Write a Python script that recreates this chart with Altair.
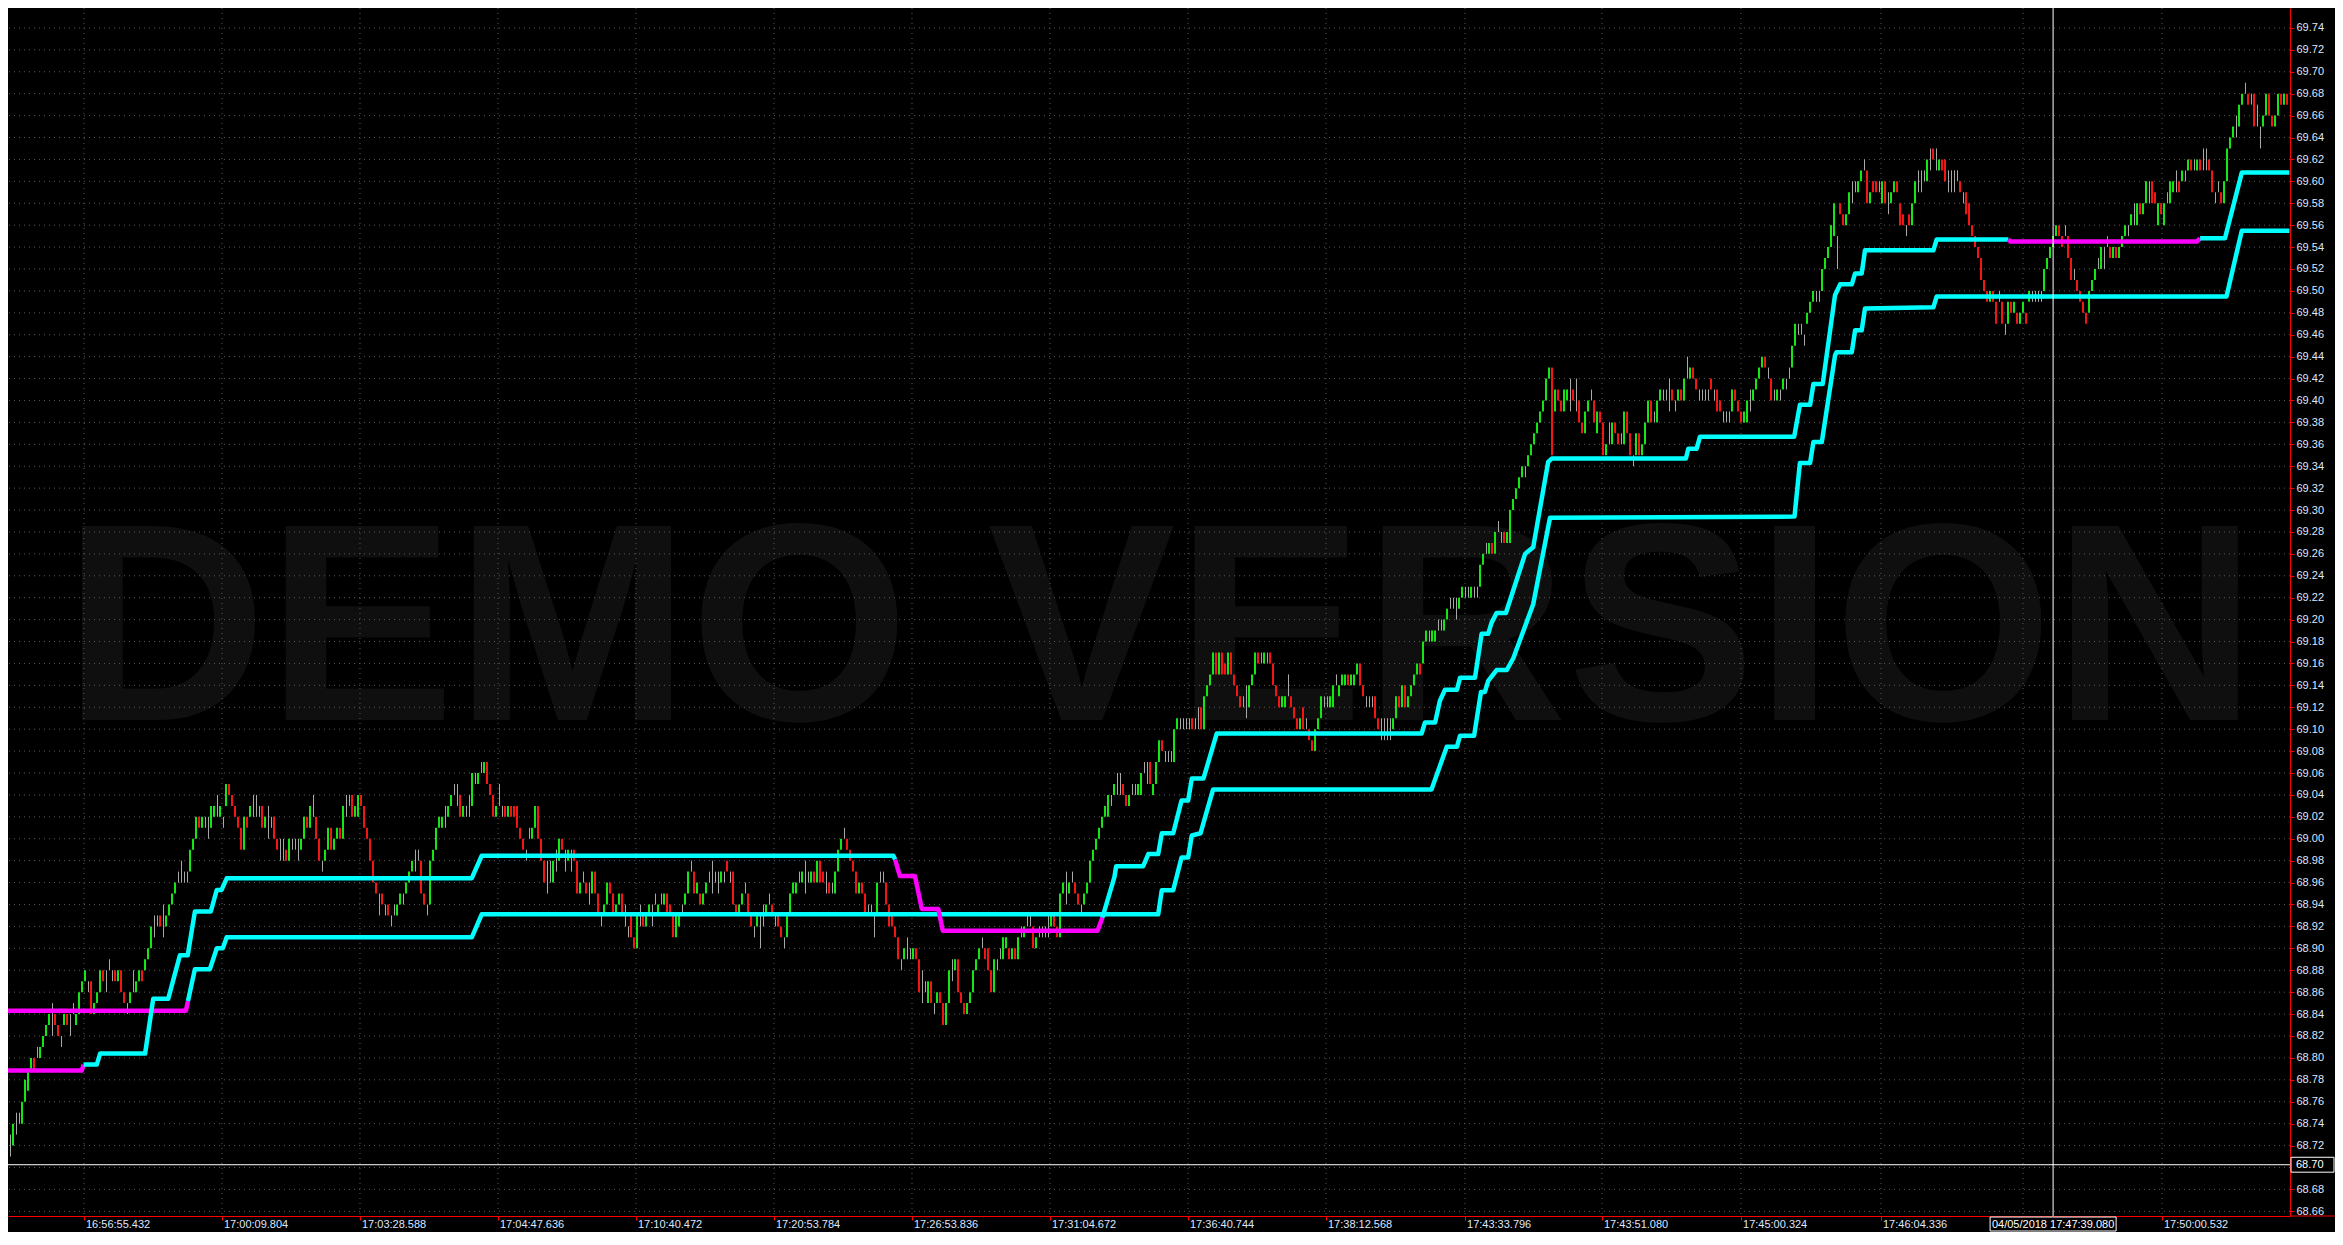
import altair as alt
import pandas as pd

# ---------------- layout ----------------
W, H = 2282, 1208
PAD_R, PAD_B = 45, 16
U_MAX = W / 3                       # bar slots across the plot (3 px each)
P_MIN, P_MAX = 68.6557, 69.7582

GREEN, RED, WICK = "#14e614", "#f41414", "#a8a8a8"
CYAN, MAGENTA = "#00ffff", "#ff00ff"
AXIS_RED, LABEL, GRID = "#ff0000", "#dfe6ff", "#5a5a5a"
FONT = "Liberation Sans"

# ---------------- data ----------------
# bars: "a+b" up bar (open a, close b), "a-b" down bar, "a~b" doji range; ticks = (price-68)*100
SEG_START = [0, 130, 264, 397, 530, 630, 742]
SEG_A = ("71~73 72+74 73~75 74~75 74+76 76+78 77+79 79+80 80-79 80~81 80+81 81+82 82+83 83+84 82~85 84-83 83-82 81~82 83+84 84-83 "
         "82~84 84~85 83+84 84+86 86+87 87+88 86~87 87-84 84+85 85+86 86+88 88-87 86~88 88~89 87~88 88-87 87+88 88-86 86-85 84~85 "
         "85+86 86~88 86+87 87+88 88-87 88+89 89+90 90+92 91~93 92~93 93-92 91~94 92+93 93+94 94+95 95+96 96~97 96~98 96~97 96~97 "
         "97+99 99+100 100+102 102-101 101+102 101~102 100~102 101+103 102+103 102~104 102+103 101~102 103+105 105-104 104-103 103-102 102-101 101-99 99+102 102-101 "
         "102+103 102~104 102~104 102~103 103-101 101+102 100~103 101~102 102-100 100-99 98~100 98~100 99-98 98+100 99~100 99~100 98~100 99+100 100+102 102-101 "
         "101+103 102~104 102-100 100-98 97~98 98+99 99+101 101-99 99+100 100+101 101-100 100+103 102~104 103~104 104-102 102+103 102+104 104-103 103-101 101-100 "
         "100-98 98-96 96-95 93~95 95-94 93~94 94-93 92~93 93~94 93+94")
SEG_B = ("94+95 94~95 95+96 96+97 97+98 97~99 98~99 98-95 95-94 93~94 94+98 98+99 99+101 101+102 101+102 101~103 102+103 103+104 104~105 103~105 "
         "104-102 102+103 102~103 102~104 103+106 105~106 105+106 106~107 106+107 107-105 105-104 104-102 102+103 103~105 102~103 103-102 102+103 103-102 103-102 103-101 "
         "101-100 100-99 98~99 100~101 100+101 101+103 103-100 100-98 98-96 95~98 96~98 96+98 97~99 98+100 100-99 97~99 98+99 97~99 99-98 98-95 "
         "95+96 96~97 96-95 94~96 95+97 97-95 95-93 92~93 93+94 94+96 96-95 95-93 93+94 94+95 95-93 92~94 91~92 93-91 91-90 90+93 "
         "92~94 93-92 92+93 93+94 92~94 94~95 93+94 94~95 94+95 95-93 94-93 93-91 91+93 92+93 93~94 94+95 95+97 97~98 97-95 95+96 "
         "95-94 94+95 95+96 96~97 95~98 96~97 95~97 96+97 96~97 98-97 96~97 97-94 94-93 93+94 94+95 95~96 95-93 93-92 91~92 92+93 "
         "90~93 92~94 93+94 94~95 94-93 92~93 93-92 92-91 90~91 91+93 93+95 95+96 95+96 96~97")
SEG_C = ("96+97 95~98 96~97 96+97 97-96 96+98 98-96 97-96 95~97 96-95 95~96 95+97 97+99 99+100 100~101 100-99 99-98 98-97 97-95 95+96 "
         "96-95 95-93 93~94 93~94 91~93 93+96 96~97 96~97 96-94 94-92 93-92 92-91 91-89 88~89 89+90 89~91 89~90 89+90 90-89 89-86 "
         "85~88 86~87 85+87 87-85 84~85 85+86 86-85 85-83 83+85 85+88 87~89 88+89 89-86 86-85 85-84 84+85 85+86 86+88 88+89 89+90 "
         "90~91 90-89 90-88 88-86 86+89 88~89 89~90 89+91 90+91 90-89 89+90 90-89 89+91 91~92 91+92 92~93 92~93 92-90 90+91 91~92 "
         "91~92 91~92 91~93 92+93 93-92 92-91 91+95 95+96 94~97 95+96 96~97 96-95 95-94 93~94 94+95 95+96 96+98 98+99 99+100 100+101 "
         "101+102 102+103 102+104 103~104 104+105 104~106 104~106 105-104 104-103 103+104 104~105 104~105 104+105 104+106 106~107 105~107 107-105 104+105 105+107 107+109 "
         "109-108 107~108 107~108 107~108 107+110 110+111 110~111 110~111 110~111 110~111 111-110 110~111 110~112")
SEG_D = ("112-110 110+113 113+114 114+115 115+117 117-115 115+117 117-115 116-115 115+117 117-115 115-114 114-113 113-112 112~113 111~114 112+114 114+115 115+117 117-116 "
         "116~117 116+117 116~117 117-116 116-114 114-113 113-112 112+113 112+113 113~115 113-112 112-111 111-110 110+111 112-110 110~111 110-109 109-108 108+110 110+111 "
         "111+113 112~113 112~113 112+113 112+114 114~115 113+114 114+115 114+115 115-114 114+115 114+115 115+116 116-114 114-113 112~113 112~113 112~113 113-111 111-110 "
         "109~111 109~111 109~111 109~111 110+111 111+113 113-112 112+114 114-112 112+113 113+114 114+115 115+116 116-115 116+118 118+119 118~119 118+119 118+119 119~120 "
         "119~120 119+120 120+121 121~122 121~122 120~122 121+122 122+123 122~123 122~123 122+123 122~123 122~123 123+125 125+126 126~127 126+127 127-126 126+128 128~129 "
         "127~128 128-127 127+128 127+130 130+131 131+132 132+133 133+134 133~134 134+135 135+136 136+137 137+138 138+139 139+140 140+142 142+143 143-135 139+141 141-140 "
         "140-139 139+141 140+141 139~142 141-140 139~142 140-138 138-137 137+139 139+140 140~141 140-138 137+139")
SEG_E = ("139-138 138-135 135+136 136~138 136+138 138-137 137-136 136~137 136+139 139-137 137-135 134~135 135+137 137-135 135+136 136+138 138+140 140-138 138~139 138+140 "
         "140+141 140~141 140~141 139~142 141-140 139~140 140+141 141-140 140+142 142~144 142+143 143-142 142-141 140~141 140~141 140~141 140~141 142-141 140~141 141-139 "
         "140-139 138~139 138~139 138~139 139+141 141-140 140-139 139-138 138+139 138+140 139~141 140+141 141+142 142+143 143+144 144-143 142~143 142-140 140~141 140+141 "
         "140~141 141+142 141~142 142~143 143+145 145+147 146~147 146~147 145~146 147+148 148+149 149+150 149~150 149~150 150+152 152+153 153+154 154+156 155+158 152~155 "
         "158-157 157-156 156+157 157+159 158~160 159~160 159+160 160+161 161~162 161-158 158+159 160-159 160-159 159~160 158+160 160-158 157~159 158+159 159+160 160-159")
SEG_F = ("158-156 157-156 155~156 157-156 156+158 158+160 159~161 159~161 160~161 160+162 161~163 163-162 161~163 161+162 162-161 162-160 159~161 159~161 159~161 160~161 "
         "160-159 158~159 159-157 158-156 156-155 155-154 154-153 153-151 151-150 150-149 149+150 150-149 149-147 149~150 149-147 146~147 147+149 149-148 148+149 148-147 "
         "147+148 148+149 148-147 149+150 149~150 149~150 149~150 149~150 150+152 152+153 153+154 154+155 155+156 156-155 155-154 155~156 155-153 153-151 151~152 151-150 "
         "150-149 149-148 148-147 148+150 150+151 151+152 152~153 152+154 152~154 154~155 154-153 153+154 154-153 153+154 154+155 155+156 155~156 156+157 156~158 156+158 "
         "158-157 157+158 158+160 158~160 160-158 159-158 156+158 158-157 156+158 158~159 158+160 159+160 159~161 160-159 160+161 160~161 161+162 162-161 161~162 161+162 "
         "162-161 161~163 161~163 162-161 161-159 158~159 159~160 159-158 158+160 160+163 163+164 164+165")
SEG_G = ("164~166 165+167 167+168 168~169 168-167 167~168 168-165 165~167 163~165 165+166 166+168 168-166 166-165 165+166 166+168 168-167 167+168 168-167")
SEGMENTS = [SEG_A, SEG_B, SEG_C, SEG_D, SEG_E, SEG_F, SEG_G]

# band lines: (bar position, price) vertices
LINE_A_MAG = [(0, 68.843), (59.3, 68.843), (60.0, 68.852)]
LINE_A_CYAN = [(60.0, 68.852), (62.3, 68.881), (67.3, 68.881), (69.6, 68.900), (71.6, 68.900), (72.9, 68.910),
               (154.6, 68.910), (157.9, 68.931), (383.4, 68.931), (384.6, 68.953), (388.4, 68.953), (391.2, 68.983),
               (393.4, 68.983), (394.6, 69.003), (397.5, 69.005), (401.7, 69.045), (474.5, 69.045), (479.6, 69.084),
               (483.0, 69.084), (484.0, 69.094), (488.7, 69.094), (491.0, 69.134), (492.3, 69.134), (493.4, 69.144),
               (496.2, 69.154), (499.6, 69.154), (501.8, 69.165), (508.4, 69.214), (514.0, 69.293), (595.5, 69.294),
               (597.3, 69.343), (600.7, 69.343), (601.8, 69.362), (604.6, 69.362), (609.0, 69.441), (609.5, 69.444),
               (614.6, 69.444), (615.7, 69.464), (617.9, 69.464), (619.0, 69.484), (641.8, 69.485), (642.9, 69.495),
               (739.5, 69.495), (744.6, 69.555), (760.5, 69.555)]
LINE_B_MAG1 = [(0, 68.7885), (24.6, 68.7885), (25.2, 68.7939)]
LINE_B_CYAN1 = [(25.2, 68.7939), (29.6, 68.7939), (30.7, 68.8039), (45.7, 68.8039), (48.4, 68.8539), (53.4, 68.8539),
                (57.3, 68.8936), (59.9, 68.8936), (62.3, 68.9336), (67.6, 68.9336), (69.6, 68.9533), (71.2, 68.9533),
                (72.9, 68.9639), (154.6, 68.964), (157.9, 68.9845), (295.1, 68.9845), (295.7, 68.981)]
LINE_B_MAG2 = [(295.7, 68.981), (297.3, 68.966), (302.3, 68.966), (304.6, 68.936), (310.1, 68.936), (311.6, 68.916),
               (363.2, 68.916), (364.8, 68.928)]
LINE_B_CYAN2 = [(364.8, 68.928), (368.8, 68.965), (369.4, 68.975), (378.4, 68.975), (380.1, 68.986), (383.4, 68.986),
                (384.6, 69.005), (388.4, 69.005), (391.2, 69.035), (393.4, 69.035), (394.6, 69.055), (398.5, 69.055),
                (402.9, 69.096), (471.2, 69.096), (472.3, 69.106), (475.7, 69.106), (477.3, 69.126), (479.0, 69.136),
                (483.0, 69.136), (484.0, 69.147), (489.0, 69.147), (491.2, 69.187), (493.4, 69.187), (494.5, 69.197),
                (496.2, 69.206), (499.3, 69.206), (500.6, 69.217), (505.7, 69.260), (508.4, 69.266), (513.4, 69.344),
                (514.6, 69.347), (559.3, 69.347), (560.1, 69.356), (562.9, 69.356), (564.0, 69.367), (595.4, 69.367),
                (597.3, 69.396), (600.7, 69.396), (601.8, 69.415), (604.9, 69.415), (609.0, 69.496), (610.7, 69.506),
                (614.6, 69.506), (615.7, 69.516), (617.9, 69.516), (619.0, 69.537), (641.8, 69.537), (642.9, 69.547),
                (666.8, 69.547)]
LINE_B_MAG3 = [(666.8, 69.547), (667.5, 69.545), (729.6, 69.545), (730.7, 69.548)]
LINE_B_CYAN3 = [(730.7, 69.548), (739.0, 69.548), (744.6, 69.608), (760.5, 69.608)]

Y_TICKS = [68.66, 68.68, 68.70, 68.72, 68.74, 68.76, 68.78, 68.80, 68.82, 68.84, 68.86, 68.88, 68.90, 68.92,
           68.94, 68.96, 68.98, 69.00, 69.02, 69.04, 69.06, 69.08, 69.10, 69.12, 69.14, 69.16, 69.18, 69.20,
           69.22, 69.24, 69.26, 69.28, 69.30, 69.32, 69.34, 69.36, 69.38, 69.40, 69.42, 69.44, 69.46, 69.48,
           69.50, 69.52, 69.54, 69.56, 69.58, 69.60, 69.62, 69.64, 69.66, 69.68, 69.70, 69.72, 69.74]
X_TICKS = [25.33, 71.33, 117.33, 163.33, 209.33, 255.33, 301.33, 347.33, 393.33, 439.33, 485.67, 531.33,
           577.67, 624.33, 671.67, 718.0]
X_LABELS = ["16:56:55.432", "17:00:09.804", "17:03:28.588", "17:04:47.636", "17:10:40.472", "17:20:53.784",
            "17:26:53.836", "17:31:04.672", "17:36:40.744", "17:38:12.568", "17:43:33.796", "17:43:51.080",
            "17:45:00.324", "17:46:04.336", "", "17:50:00.532"]
CROSS_U, CROSS_P = 681.7, 68.7025
CROSS_TIME = "04/05/2018 17:47:39.080"
CROSS_PRICE = "68.70"

# ---------------- build tables ----------------
rows = []
for start, seg in zip(SEG_START, SEGMENTS):
    for j, tok in enumerate(seg.split()):
        i = start + j
        if "+" in tok:
            a, b = tok.split("+"); kind = "up"; lo, hi = int(a), int(b)
        elif "-" in tok:
            a, b = tok.split("-"); kind = "down"; lo, hi = int(b), int(a)
        else:
            a, b = tok.split("~"); kind = "doji"; lo, hi = int(a), int(b)
        # bodies snap to whole pixels (2 px wide), wick centred on a pixel
        rows.append({"i": i, "xc": i + 5 / 6, "x0": i + 1 / 3, "x1": i + 1.0,
                     "lo": 68 + lo / 100, "hi": 68 + hi / 100, "kind": kind})
bars = pd.DataFrame(rows)
bodies = bars[bars.kind != "doji"]
dojis = bars[bars.kind == "doji"]

line_rows = []
for name, col, pts in [("A_mag", MAGENTA, LINE_A_MAG), ("A_cy", CYAN, LINE_A_CYAN),
                       ("B_mag1", MAGENTA, LINE_B_MAG1), ("B_cy1", CYAN, LINE_B_CYAN1),
                       ("B_mag2", MAGENTA, LINE_B_MAG2), ("B_cy2", CYAN, LINE_B_CYAN2),
                       ("B_mag3", MAGENTA, LINE_B_MAG3), ("B_cy3", CYAN, LINE_B_CYAN3)]:
    for k, (u, p) in enumerate(pts):
        line_rows.append({"seg": name, "col": col, "k": k, "u": u, "p": p})
lines = pd.DataFrame(line_rows)

xs = alt.Scale(domain=[0, U_MAX], nice=False, zero=False)
ys = alt.Scale(domain=[P_MIN, P_MAX], nice=False, zero=False)
X_AXIS = alt.Axis(values=X_TICKS, labels=False, grid=False, domainColor=AXIS_RED, tickColor=AXIS_RED,
                  tickSize=4, title=None)
Y_AXIS = alt.Axis(orient="right", values=Y_TICKS, format=".2f", grid=False, domainColor=AXIS_RED,
                  tickColor=AXIS_RED, tickSize=4, labelColor=LABEL, labelFont=FONT, labelFontSize=11,
                  labelPadding=2, title=None, labelOverlap=False)


def X(f):
    return alt.X(f, type="quantitative", scale=xs, axis=X_AXIS)


def Y(f):
    return alt.Y(f, type="quantitative", scale=ys, axis=Y_AXIS)


watermark = alt.Chart(pd.DataFrame({"t": ["DEMO VERSION"]})).mark_text(
    font=FONT, fontSize=282, fontWeight="bold", color="#0f0f0f", align="center", baseline="alphabetic"
).encode(x=alt.value(1152), y=alt.value(712), text="t:N")

ygrid = alt.Chart(pd.DataFrame({"v": Y_TICKS})).mark_rule(color=GRID, strokeDash=[1, 4], strokeWidth=1).encode(y=Y("v"))
xgrid = alt.Chart(pd.DataFrame({"v": X_TICKS})).mark_rule(color=GRID, strokeDash=[1, 4], strokeWidth=1).encode(x=X("v"))

doji_layer = alt.Chart(dojis).mark_rule(color=WICK, strokeWidth=1).encode(x=X("xc"), y=Y("lo"), y2="hi")
body_layer = alt.Chart(bodies).mark_rect().encode(
    x=X("x0"), x2="x1", y=Y("lo"), y2="hi",
    color=alt.Color("kind:N", scale=alt.Scale(domain=["up", "down"], range=[GREEN, RED]), legend=None))

band_layer = alt.Chart(lines).mark_line(strokeWidth=4.5, strokeJoin="round").encode(
    x=X("u"), y=Y("p"), detail="seg:N", order="k:Q", color=alt.Color("col:N", scale=None))

cross_df = pd.DataFrame({"u": [CROSS_U], "p": [CROSS_P]})
cross_v = alt.Chart(cross_df).mark_rule(color="white", strokeWidth=1).encode(x=X("u"))
cross_h = alt.Chart(cross_df).mark_rule(color="white", strokeWidth=1).encode(y=Y("p"))

xlab = alt.Chart(pd.DataFrame({"u": X_TICKS, "label": X_LABELS})).mark_text(
    align="left", baseline="middle", dx=2, font=FONT, fontSize=11, color=LABEL
).encode(x=X("u"), y=alt.value(H + 9), text="label:N")

bottom_ext = alt.Chart(pd.DataFrame({"a": [0]})).mark_rule(color=AXIS_RED, strokeWidth=1).encode(
    x=alt.value(W), x2=alt.value(W + PAD_R), y=alt.value(H))

tbox_df = pd.DataFrame({"a": [CROSS_U - 21], "b": [CROSS_U + 21], "u": [CROSS_U], "t": [CROSS_TIME]})
tbox = alt.Chart(tbox_df).mark_rect(fill="black", stroke="white", strokeWidth=1).encode(
    x=X("a"), x2="b", y=alt.value(H + 1), y2=alt.value(H + 15))
ttext = alt.Chart(tbox_df).mark_text(align="center", baseline="middle", font=FONT, fontSize=11, color="white").encode(
    x=X("u"), y=alt.value(H + 8.5), text="t:N")

pbox_df = pd.DataFrame({"p0": [CROSS_P - 0.0068], "p1": [CROSS_P + 0.0068], "p": [CROSS_P], "t": [CROSS_PRICE]})
pbox = alt.Chart(pbox_df).mark_rect(fill="black", stroke="white", strokeWidth=1).encode(
    x=alt.value(W + 1), x2=alt.value(W + PAD_R - 1), y=Y("p0"), y2="p1")
ptext = alt.Chart(pbox_df).mark_text(align="left", baseline="middle", font=FONT, fontSize=11, color="white").encode(
    x=alt.value(W + 6), y=Y("p"), text="t:N")

chart = alt.layer(
    watermark, ygrid, xgrid, doji_layer, body_layer, band_layer, cross_v, cross_h,
    xlab, bottom_ext, tbox, ttext, pbox, ptext
).properties(
    width=W, height=H,
    padding={"left": 0, "top": 0, "right": PAD_R, "bottom": PAD_B},
    autosize=alt.AutoSizeParams(type="none"),
    background="#000000",
).configure_view(strokeWidth=0, fill="#000000")

chart.save("out.html", embed_options={"renderer": "svg", "actions": False})
